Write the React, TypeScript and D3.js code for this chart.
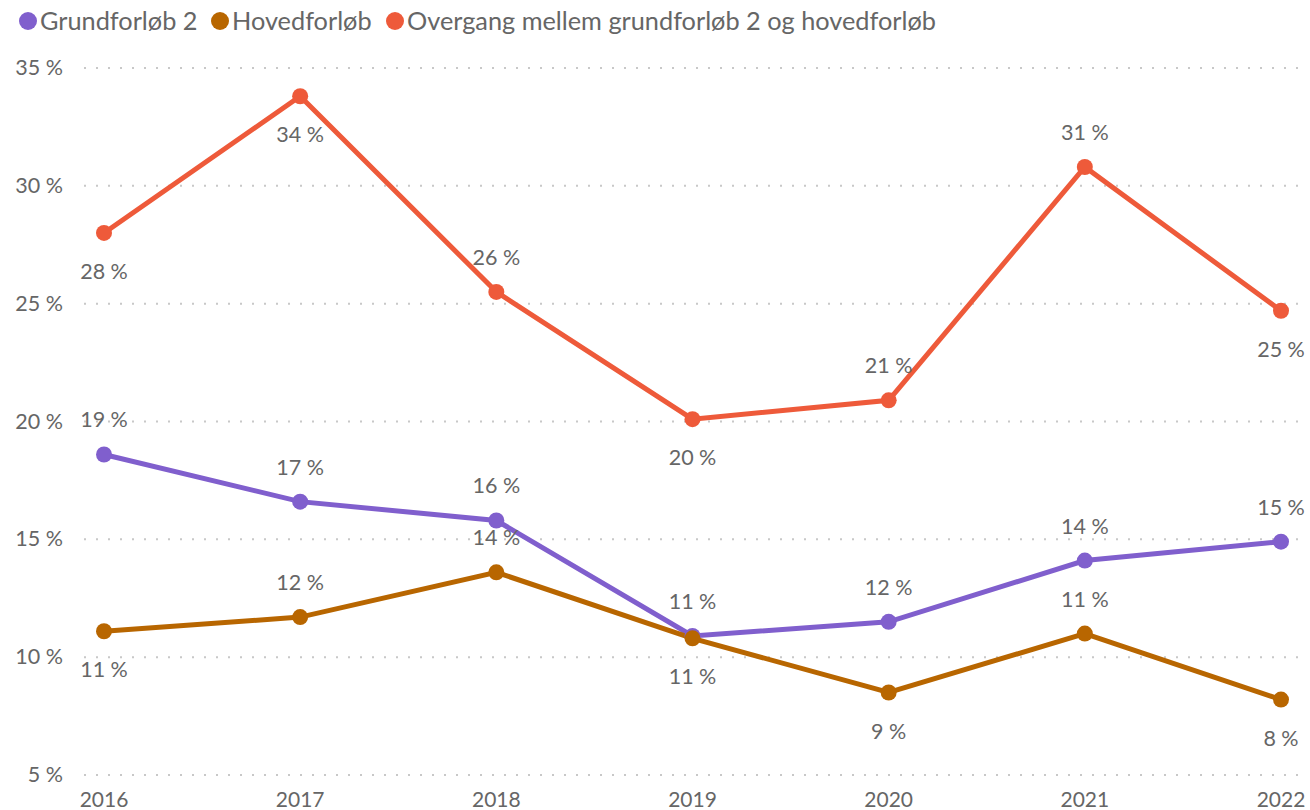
import React from "react";
import * as d3 from "d3";

const years = ["2016", "2017", "2018", "2019", "2020", "2021", "2022"];
const grundforlob2 = [18.6, 16.6, 15.8, 10.9, 11.5, 14.1, 14.9];
const hovedforlob = [11.1, 11.7, 13.6, 10.8, 8.5, 11.0, 8.2];
const overgang = [28.0, 33.8, 25.5, 20.1, 20.9, 30.8, 24.7];
const grundPos = ["above", "above", "above", "above", "above", "above", "above"];
const hovedPos = ["below", "above", "above", "below", "below", "above", "below"];
const overgangPos = ["below", "below", "above", "below", "above", "above", "below"];
const yTicks = [5, 10, 15, 20, 25, 30, 35];
const seriesNames = ["Grundforløb 2", "Hovedforløb", "Overgang mellem grundforløb 2 og hovedforløb"];
const seriesColors = ["#805FCD", "#B86600", "#EE5A3A"];

const W = 1310;
const H = 810;
const FONT = "Lato, 'Noto Sans', sans-serif";
const TEXT = "#666666";

export default function App() {
  const x = d3.scalePoint<string>().domain(years).range([104, 1281]);
  const y = d3.scaleLinear().domain([5, 35]).range([775, 68]);
  const line = d3
    .line<number>()
    .x((_, i) => x(years[i]) as number)
    .y((d) => y(d));

  const series = [
    { name: seriesNames[0], values: grundforlob2, pos: grundPos, color: seriesColors[0] },
    { name: seriesNames[1], values: hovedforlob, pos: hovedPos, color: seriesColors[1] },
    { name: seriesNames[2], values: overgang, pos: overgangPos, color: seriesColors[2] },
  ];

  const legendX = [28, 220, 395];

  return (
    <svg
      width={W}
      height={H}
      style={{ position: "absolute", left: 0, top: 0, display: "block", background: "#fff" }}
      fontFamily={FONT}
    >
      {/* legend */}
      {series.map((s, i) => (
        <g key={s.name} transform={`translate(${legendX[i]},21)`}>
          <circle r={9} fill={s.color} />
          <text x={12} y={9} fontSize={25.3} fill={TEXT}>
            {s.name}
          </text>
        </g>
      ))}
      {/* grid + y ticks */}
      {yTicks.map((t) => (
        <g key={t}>
          <line
            x1={84}
            x2={1300}
            y1={y(t)}
            y2={y(t)}
            stroke="#c8c8c8"
            strokeWidth={2}
            strokeDasharray="2 10"
          />
          <text x={63} y={y(t) + 7} textAnchor="end" fontSize={21.5} fill={TEXT}>
            {`${t} %`}
          </text>
        </g>
      ))}
      {/* x labels */}
      {years.map((yr) => (
        <text key={yr} x={x(yr) as number} y={807} textAnchor="middle" fontSize={21} fill={TEXT}>
          {yr}
        </text>
      ))}
      {/* lines */}
      {series.map((s) => (
        <path key={s.name} d={line(s.values) || ""} fill="none" stroke={s.color} strokeWidth={5} />
      ))}
      {series.map((s) => (
        <g key={s.name + "pts"}>
          {s.values.map((v, i) => (
            <circle key={i} cx={x(years[i]) as number} cy={y(v)} r={8} fill={s.color} />
          ))}
        </g>
      ))}
      {series.map((s) => (
        <g key={s.name + "lbl"}>
          {s.values.map((v, i) => (
            <text
              key={i}
              x={x(years[i]) as number}
              y={y(v) + (s.pos[i] === "above" ? -27 : 46)}
              textAnchor="middle"
              fontSize={21.5}
              fill={TEXT}
            >
              {`${Math.round(v)} %`}
            </text>
          ))}
        </g>
      ))}
    </svg>
  );
}
